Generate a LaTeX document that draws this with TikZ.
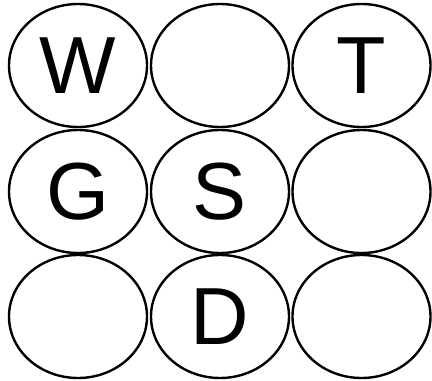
\documentclass[tikz,border=0pt]{standalone}
\usepackage{fontspec}
\setmainfont{Liberation Sans}
\usetikzlibrary{shapes.geometric}
\begin{document}
\begin{tikzpicture}[x=1pt,y=-1pt,
  cell/.style={ellipse,draw=black,line width=2.4pt,minimum width=138pt,minimum height=123pt,inner sep=0pt,font=\fontsize{81}{81}\selectfont}]
\useasboundingbox (0,0) rectangle (432,381);
\node[cell] (a1) at (78,65.5) {W};
\node[cell] (a2) at (220,65.5) {};
\node[cell] (a3) at (361.5,65.5) {T};
\node[cell] (b1) at (78,191.5) {G};
\node[cell] (b2) at (220,191.5) {S};
\node[cell] (b3) at (361.5,191.5) {};
\node[cell] (c1) at (78,316.5) {};
\node[cell] (c2) at (220,316.5) {D};
\node[cell] (c3) at (361.5,316.5) {};
\end{tikzpicture}
\end{document}
